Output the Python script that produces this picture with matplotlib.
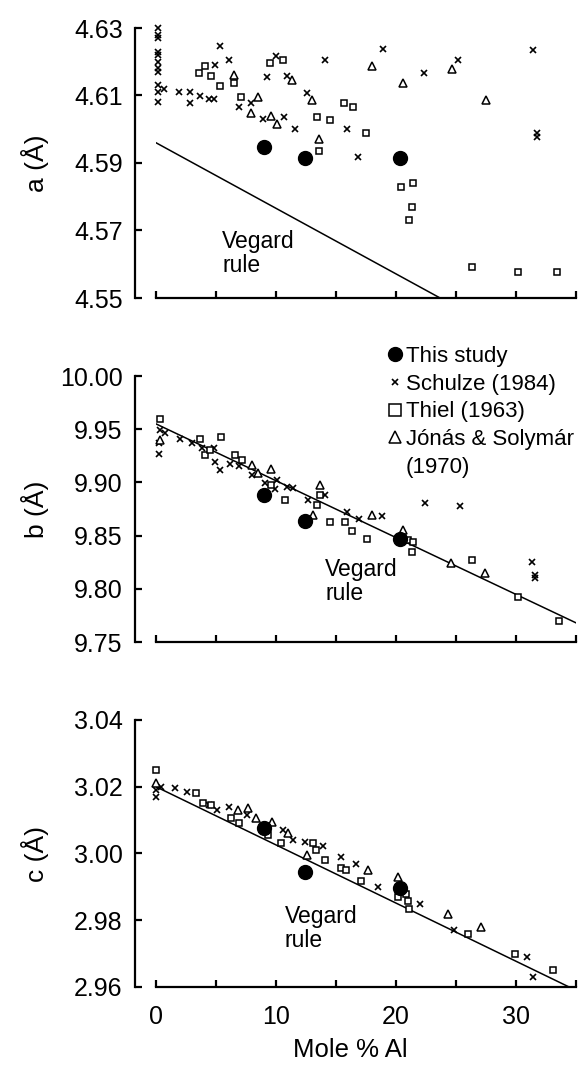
import numpy as np
import matplotlib
matplotlib.use("Agg")
import matplotlib.pyplot as plt
from matplotlib.lines import Line2D

plt.rcParams['font.family'] = ['Liberation Sans', 'DejaVu Sans']

# Dados (Mole % Al vs parametros de cela)
mol_this = [9.0, 12.4, 20.3]
a_this = [4.5947, 4.5914, 4.5916]
b_this = [9.888, 9.864, 9.847]
c_this = [3.0075, 2.9946, 2.9896]

vegard_x = [0, 35]
vegard_a = [4.596, 4.528]
vegard_b = [9.955, 9.768]
vegard_c = [3.020, 2.959]

# Schulze (1984)
schulze_a_x = [0.2, 0.2, 0.2, 0.2, 0.2, 0.2, 0.2, 0.2, 0.2, 0.2, 0.2,
               0.7, 1.9, 2.8, 2.8, 3.7, 4.4, 4.8, 5.3, 4.9, 6.05, 6.9, 7.9,
               8.9, 9.25, 9.97, 10.7, 10.9, 11.6, 12.6, 14.1, 15.9, 16.8,
               18.9, 22.3, 25.2, 31.4, 31.75, 31.75]
schulze_a = [4.630, 4.628, 4.627, 4.623, 4.622, 4.620, 4.618, 4.617, 4.613, 4.611, 4.608,
             4.6118, 4.611, 4.611, 4.6077, 4.6099, 4.6089, 4.6089, 4.6247, 4.619, 4.6205,
             4.6067, 4.6079, 4.603, 4.6156, 4.6217, 4.6037, 4.6158, 4.600, 4.6108, 4.6205,
             4.600, 4.5917, 4.6237, 4.6168, 4.6205, 4.6235, 4.5988, 4.5976]
schulze_b_x = [0.33, 0.75, 0.28, 0.28, 2.0, 3.0, 3.8, 4.8, 4.9, 5.3, 6.2, 6.9, 8.0,
               9.1, 9.9, 10.1, 10.9, 11.4, 12.7, 14.1, 15.9, 16.9, 18.8, 22.4, 25.3,
               31.3, 31.6, 31.6]
schulze_b = [9.949, 9.946, 9.937, 9.927, 9.941, 9.937, 9.932, 9.932, 9.919, 9.912,
             9.917, 9.915, 9.907, 9.899, 9.894, 9.902, 9.896, 9.895, 9.883, 9.888,
             9.872, 9.866, 9.868, 9.881, 9.878, 9.825, 9.813, 9.810]
schulze_c_x = [0.0, 0.0, 0.4, 1.6, 2.6, 4.4, 5.1, 6.1, 7.6, 10.6, 11.4, 12.4, 13.9,
               15.4, 16.7, 18.5, 22.0, 24.8, 30.9, 31.4]
schulze_c = [3.017, 3.019, 3.020, 3.0197, 3.0185, 3.0145, 3.013, 3.014, 3.0115, 3.007,
             3.004, 3.0033, 3.0023, 2.999, 2.997, 2.990, 2.985, 2.977, 2.969, 2.963]

# Thiel (1963)
thiel_a_x = [3.6, 4.06, 4.55, 5.3, 6.5, 7.1, 9.5, 10.6, 13.4, 13.6, 14.5, 15.7, 16.4,
             17.5, 20.4, 21.4, 21.3, 21.1, 26.3, 30.2, 33.4]
thiel_a = [4.6168, 4.6187, 4.6158, 4.6128, 4.6136, 4.6096, 4.6197, 4.6205, 4.6037,
           4.5936, 4.6027, 4.6077, 4.6067, 4.5988, 4.583, 4.584, 4.5769, 4.5731,
           4.5593, 4.5578, 4.5578]
thiel_b_x = [0.33, 3.7, 5.4, 4.1, 4.5, 6.6, 7.2, 9.6, 10.75, 13.7, 13.4, 14.5, 15.75,
             16.3, 17.6, 21.0, 21.4, 21.3, 26.3, 30.2, 33.6]
thiel_b = [9.960, 9.941, 9.943, 9.926, 9.930, 9.926, 9.921, 9.898, 9.883, 9.888, 9.879,
           9.863, 9.863, 9.854, 9.847, 9.846, 9.844, 9.835, 9.827, 9.792, 9.770]
thiel_c_x = [0.0, 3.3, 3.9, 4.6, 6.25, 6.9, 9.3, 10.4, 13.1, 13.3, 14.1, 15.4, 15.8,
             17.1, 20.8, 20.2, 21.0, 21.1, 26.0, 29.9, 33.1]
thiel_c = [3.025, 3.018, 3.015, 3.0145, 3.0107, 3.009, 3.0055, 3.003, 3.0032, 3.001,
           2.998, 2.9958, 2.995, 2.9918, 2.988, 2.9869, 2.9859, 2.9833, 2.976, 2.970, 2.965]

# Jonas & Solymar (1970)
jonas_a_x = [6.5, 8.5, 7.9, 9.6, 10.1, 11.3, 13.0, 13.6, 18.0, 20.6, 24.7, 27.5]
jonas_a = [4.6161, 4.6096, 4.6049, 4.6039, 4.6017, 4.6146, 4.6087, 4.597, 4.6187,
           4.6138, 4.6178, 4.6087]
jonas_b_x = [0.33, 8.0, 8.5, 9.6, 13.7, 13.1, 18.0, 20.6, 24.6, 27.4]
jonas_b = [9.940, 9.916, 9.909, 9.913, 9.898, 9.869, 9.869, 9.855, 9.824, 9.815]
jonas_c_x = [0.0, 6.8, 7.7, 8.3, 9.7, 11.0, 12.6, 17.7, 20.2, 24.3, 27.1]
jonas_c = [3.021, 3.013, 3.0135, 3.0105, 3.0093, 3.006, 2.9995, 2.995, 2.993, 2.982, 2.978]

a_ticks = [4.55, 4.57, 4.59, 4.61, 4.63]
b_ticks = [9.75, 9.80, 9.85, 9.90, 9.95, 10.00]
c_ticks = [2.96, 2.98, 3.00, 3.02, 3.04]
x_ticks = [0, 5, 10, 15, 20, 25, 30, 35]

fig = plt.figure(figsize=(5.81, 10.65), dpi=100)
left, width = 156 / 581, 420 / 581
ax_a = fig.add_axes([left, 1 - 298 / 1065, width, 270 / 1065])
ax_b = fig.add_axes([left, 1 - 642 / 1065, width, 266 / 1065])
ax_c = fig.add_axes([left, 1 - 987 / 1065, width, 267 / 1065])

paineis = [
    (ax_a, a_ticks, 'a (Å)', vegard_a, a_this, schulze_a_x, schulze_a,
     thiel_a_x, thiel_a, jonas_a_x, jonas_a, (5.5, 4.5700)),
    (ax_b, b_ticks, 'b (Å)', vegard_b, b_this, schulze_b_x, schulze_b,
     thiel_b_x, thiel_b, jonas_b_x, jonas_b, (14.1, 9.829)),
    (ax_c, c_ticks, 'c (Å)', vegard_c, c_this, schulze_c_x, schulze_c,
     thiel_c_x, thiel_c, jonas_c_x, jonas_c, (10.75, 2.9845)),
]

for (ax, yt, rotulo, veg, this, sx, sy, tx, ty, jx, jy, pos_txt) in paineis:
    ax.plot(vegard_x, veg, color='black', linewidth=1.1)
    ax.plot(sx, sy, linestyle='none', marker='x', color='black',
            markersize=4, markeredgewidth=1.2, clip_on=False)
    ax.plot(tx, ty, linestyle='none', marker='s', markerfacecolor='white',
            markeredgecolor='black', markersize=5, markeredgewidth=1.1, clip_on=False)
    ax.plot(jx, jy, linestyle='none', marker='^', markerfacecolor='white',
            markeredgecolor='black', markersize=5.5, markeredgewidth=1.1, clip_on=False)
    ax.plot(mol_this, this, linestyle='none', marker='o', color='black',
            markersize=10, clip_on=False)
    ax.text(pos_txt[0], pos_txt[1], 'Vegard\nrule', fontsize=16.5,
            ha='left', va='top', linespacing=1.05)

    ax.set_xlim(0, 35)
    ax.set_ylim(yt[0], yt[-1])
    ax.set_yticks(yt)
    ax.set_yticklabels(['%.2f' % v for v in yt])
    ax.set_xticks(x_ticks)
    ax.set_xticklabels(['0', '', '10', '', '20', '', '30', ''])
    ax.spines['top'].set_visible(False)
    ax.spines['right'].set_visible(False)
    ax.spines['left'].set_position(('outward', 15))
    ax.spines['left'].set_linewidth(1.6)
    ax.spines['bottom'].set_linewidth(1.6)
    ax.tick_params(direction='in', length=5, width=1.6, labelsize=18)
    ax.tick_params(axis='y', pad=9)
    ax.tick_params(axis='x', pad=13)
    ax.set_ylabel(rotulo, fontsize=19)
    ax.yaxis.set_label_coords(-0.255, 0.5)

ax_a.tick_params(axis='x', labelbottom=False)
ax_b.tick_params(axis='x', labelbottom=False)
ax_c.set_xlabel('Mole % Al', fontsize=18.5)
ax_c.xaxis.set_label_coords(0.462, -0.19)

# Legenda
handles = [
    Line2D([], [], linestyle='none', marker='o', color='black', markersize=10),
    Line2D([], [], linestyle='none', marker='x', color='black', markersize=4,
           markeredgewidth=1.2),
    Line2D([], [], linestyle='none', marker='s', markerfacecolor='white',
           markeredgecolor='black', markersize=8, markeredgewidth=1.1),
    Line2D([], [], linestyle='none', marker='^', markerfacecolor='white',
           markeredgecolor='black', markersize=8, markeredgewidth=1.1),
    Line2D([], [], linestyle='none', marker='none'),
]
labels = ['This study', 'Schulze (1984)', 'Thiel (1963)', 'Jónás & Solymár', '(1970)']
fig.legend(handles, labels, loc='upper left', bbox_to_anchor=(388 / 581, 1 - 346 / 1065),
           frameon=False, fontsize=16, borderpad=0, borderaxespad=0,
           handlelength=0.6, handletextpad=0.2, labelspacing=0.3)

plt.savefig("out.png", dpi=100)
